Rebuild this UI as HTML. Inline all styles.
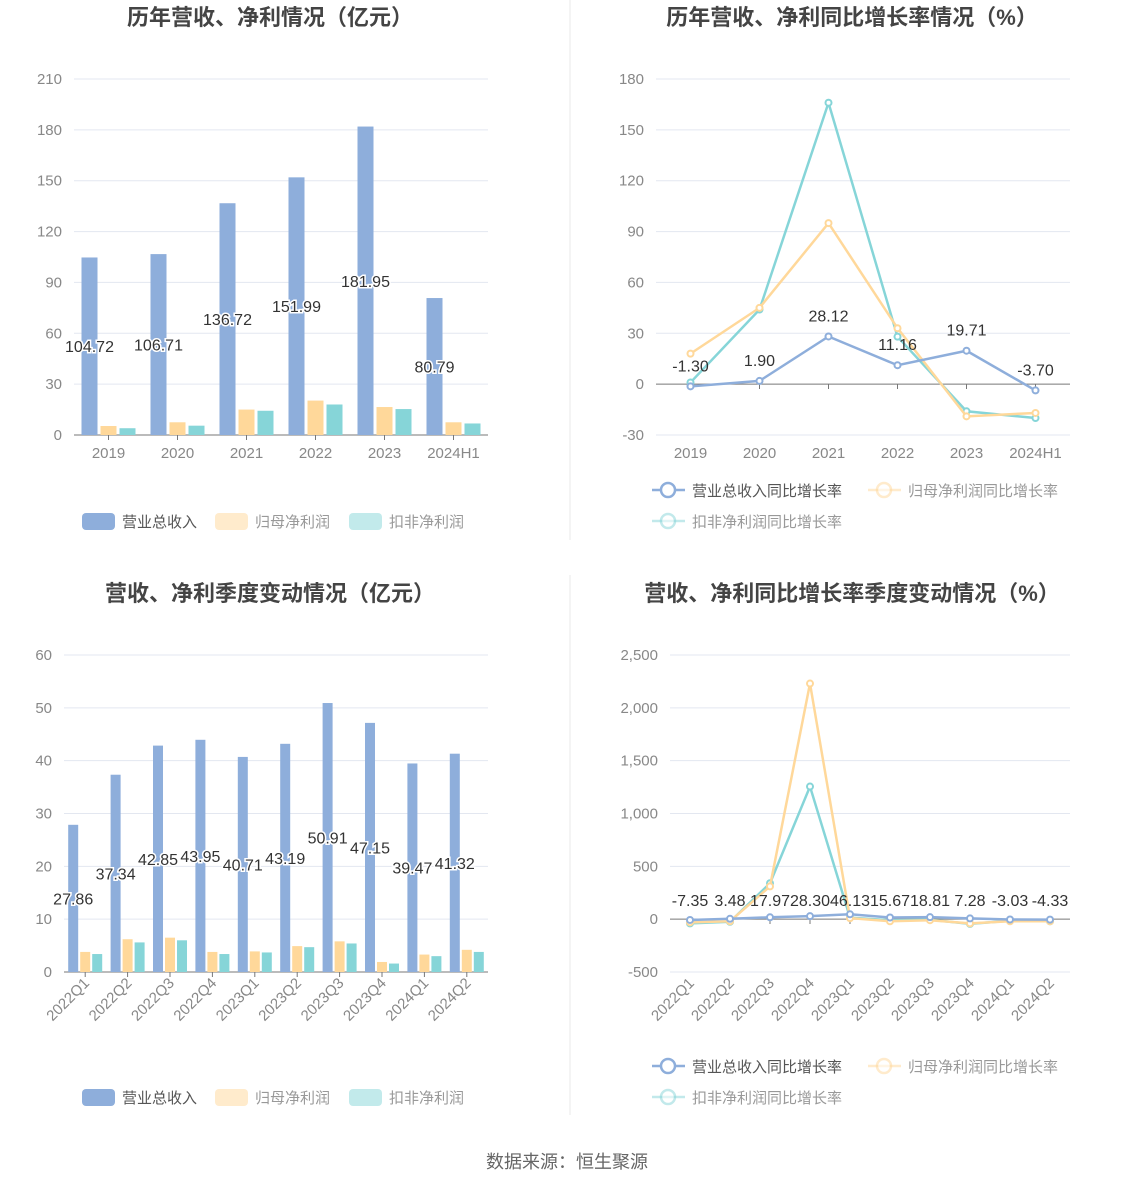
<!DOCTYPE html>
<html><head><meta charset="utf-8"><style>
body{margin:0;background:#fff;width:1134px;height:1188px;overflow:hidden;font-family:"Liberation Sans","Noto Sans CJK SC",sans-serif}
svg{position:absolute;left:0;top:0}
</style></head><body>
<svg id="s" width="1134" height="1188" font-family="Liberation Sans, Noto Sans CJK SC, sans-serif">
<line x1="570" y1="0" x2="570" y2="540" stroke="#e8e8e8"/>
<line x1="570" y1="575" x2="570" y2="1115" stroke="#e8e8e8"/>
<text x="270" y="25" font-size="22" font-weight="bold" fill="#444" text-anchor="middle">历年营收、净利情况（亿元）</text>
<text x="852" y="25" font-size="22" font-weight="bold" fill="#444" text-anchor="middle">历年营收、净利同比增长率情况（%）</text>
<text x="270" y="601" font-size="22" font-weight="bold" fill="#444" text-anchor="middle">营收、净利季度变动情况（亿元）</text>
<text x="852" y="601" font-size="22" font-weight="bold" fill="#444" text-anchor="middle">营收、净利同比增长率季度变动情况（%）</text>
<text x="567" y="1168" font-size="18" fill="#666" text-anchor="middle">数据来源：恒生聚源</text>
</svg>
<script>
const yearCats=["2019","2020","2021","2022","2023","2024H1"];
const yearRevenue=[104.72,106.71,136.72,151.99,181.95,80.79];
const yearProfit=[5.3,7.5,15.0,20.3,16.5,7.5];
const yearDeducted=[4.0,5.5,14.3,18.0,15.3,6.8];
const yearTicks1=[0,30,60,90,120,150,180,210];
const yearRevGrowth=[-1.30,1.90,28.12,11.16,19.71,-3.70];
const yearProfitGrowth=[18,45,95,33,-19,-17];
const yearDeductedGrowth=[1,44,166,28,-16,-20];
const yearTicks2=[-30,0,30,60,90,120,150,180];
const qCats=["2022Q1","2022Q2","2022Q3","2022Q4","2023Q1","2023Q2","2023Q3","2023Q4","2024Q1","2024Q2"];
const qRevenue=[27.86,37.34,42.85,43.95,40.71,43.19,50.91,47.15,39.47,41.32];
const qProfit=[3.8,6.2,6.5,3.8,3.9,4.9,5.8,1.9,3.3,4.2];
const qDeducted=[3.4,5.6,6.0,3.4,3.7,4.7,5.4,1.6,3.0,3.8];
const qTicks1=[0,10,20,30,40,50,60];
const qRevGrowth=[-7.35,3.48,17.97,28.30,46.13,15.67,18.81,7.28,-3.03,-4.33];
const qProfitGrowth=[-30,-20,310,2230,10,-20,-10,-40,-20,-20];
const qDeductedGrowth=[-40,-25,340,1255,15,-10,-5,-45,-15,-20];
const qTicks2=[-500,0,500,1000,1500,2000,2500];
const qTickLabels2=["-500","0","500","1,000","1,500","2,000","2,500"];

const C=["#8eaedb","#ffd89a","#86d5d8"];
const svg=document.getElementById('s');const NS="http://www.w3.org/2000/svg";
function mk(t,a,p){const e=document.createElementNS(NS,t);for(const k in a)e.setAttribute(k,a[k]);(p||svg).appendChild(e);return e;}
function axes(o,ticks,labels){
  const sy=v=>o.y0-(v-o.min)/(o.max-o.min)*(o.y0-o.y1);
  ticks.forEach((t,i)=>{
    const l=mk('line',{x1:o.x0,x2:o.x1,y1:sy(t),y2:sy(t),stroke:t===0?'#777':'#e3e7f0'});
    
    const tx=mk('text',{x:o.x0-12,y:sy(t)+5,'font-size':15,fill:'#888','text-anchor':'end'});
    tx.textContent=labels?labels[i]:t;
    
  });
  const bw=(o.x1-o.x0)/o.cats.length;
  const sx=i=>o.x0+bw*(i+0.5);
  o.cats.forEach((c,i)=>{
    const tk=mk('line',{x1:sx(i),x2:sx(i),y1:o.base,y2:o.base+5,stroke:'#777'});
    
    let tx;
    if(o.rot){const px=sx(i)+5,py=o.y0+12;tx=mk('text',{x:px,y:py,'font-size':15,fill:'#888','text-anchor':'end',transform:`rotate(-45 ${px} ${py})`});}
    else tx=mk('text',{x:sx(i),y:o.y0+23,'font-size':15,fill:'#888','text-anchor':'middle'});
    tx.textContent=c;
    
  });
  return {sy,sx,bw};
}
function bars(o,series,labels,w,gap){
  const a=axes(o,o.ticks);
  series.forEach((s,k)=>s.forEach((v,i)=>{
    const x=a.sx(i)-(3*w+2*gap)/2+k*(w+gap);
    const r=mk('rect',{x:x,y:a.sy(v),width:w,height:a.sy(0)-a.sy(v),fill:C[k]});
    
  }));
  labels.forEach((v,i)=>{
    const t=mk('text',{x:a.sx(i)-(w+gap),y:(a.sy(v)+a.sy(0))/2+6,'font-size':16,fill:'#333','text-anchor':'middle',stroke:'#fff','stroke-width':3,'paint-order':'stroke'});
    t.textContent=v.toFixed(2);
  });
}
function lines(o,series,labelFn,tl){
  const a=axes(o,o.ticks,tl);
  [2,1,0].forEach(k=>{const s=series[k];
    const p=mk('polyline',{points:s.map((v,i)=>a.sx(i)+','+a.sy(v)).join(' '),fill:'none',stroke:C[k],'stroke-width':2.5});
    
    s.forEach((v,i)=>{const c=mk('circle',{cx:a.sx(i),cy:a.sy(v),r:3,fill:'#fff',stroke:C[k],'stroke-width':2});
      });
  });
  series[0].forEach((v,i)=>{
    const t=mk('text',{x:a.sx(i),y:labelFn(a.sy(v)),'font-size':16,fill:'#333','text-anchor':'middle'});
    t.textContent=v.toFixed(2);
  });
}
function legendBar(cx,y){
  const names=["营业总收入","归母净利润","扣非净利润"];const xs=[-193,-60,74];
  names.forEach((n,k)=>{const g=mk('g',{});
    mk('rect',{x:cx+xs[k],y:y-8,width:33,height:17,rx:4,fill:C[k],opacity:k?0.5:1},g);
    const t=mk('text',{x:cx+xs[k]+40,y:y+6,'font-size':15,fill:k?'#999':'#555'},g);t.textContent=n;});
}
function legendLine(x,y){
  const items=[["营业总收入同比增长率",x,y],["归母净利润同比增长率",x+216,y],["扣非净利润同比增长率",x,y+31]];
  items.forEach((it,k)=>{const g=mk('g',{});
    mk('line',{x1:it[1],x2:it[1]+33,y1:it[2],y2:it[2],stroke:C[k],'stroke-width':2.5,opacity:k?0.5:1},g);
    mk('circle',{cx:it[1]+16,cy:it[2],r:7,fill:'#fff',stroke:C[k],'stroke-width':2.5,opacity:k?0.5:1},g);
    const t=mk('text',{x:it[1]+40,y:it[2]+6,'font-size':15,fill:k?'#999':'#555'},g);t.textContent=it[0];});
}
bars({x0:74,x1:488,y0:435,y1:79,min:0,max:210,base:435,cats:yearCats,ticks:yearTicks1},[yearRevenue,yearProfit,yearDeducted],yearRevenue,16,3);
lines({x0:656,x1:1070,y0:435,y1:79,min:-30,max:180,base:384,cats:yearCats,ticks:yearTicks2},[yearRevGrowth,yearProfitGrowth,yearDeductedGrowth],y=>y-15);
bars({x0:64,x1:488,y0:972,y1:655,min:0,max:60,base:972,cats:qCats,ticks:qTicks1,rot:true},[qRevenue,qProfit,qDeducted],qRevenue,10,2);
lines({x0:670,x1:1070,y0:972,y1:655,min:-500,max:2500,base:919,cats:qCats,ticks:qTicks2,rot:true},[qRevGrowth,qProfitGrowth,qDeductedGrowth],y=>906,qTickLabels2);
legendBar(275,521);legendBar(275,1097);
legendLine(652,490);legendLine(652,1066);
</script>
</body></html>
